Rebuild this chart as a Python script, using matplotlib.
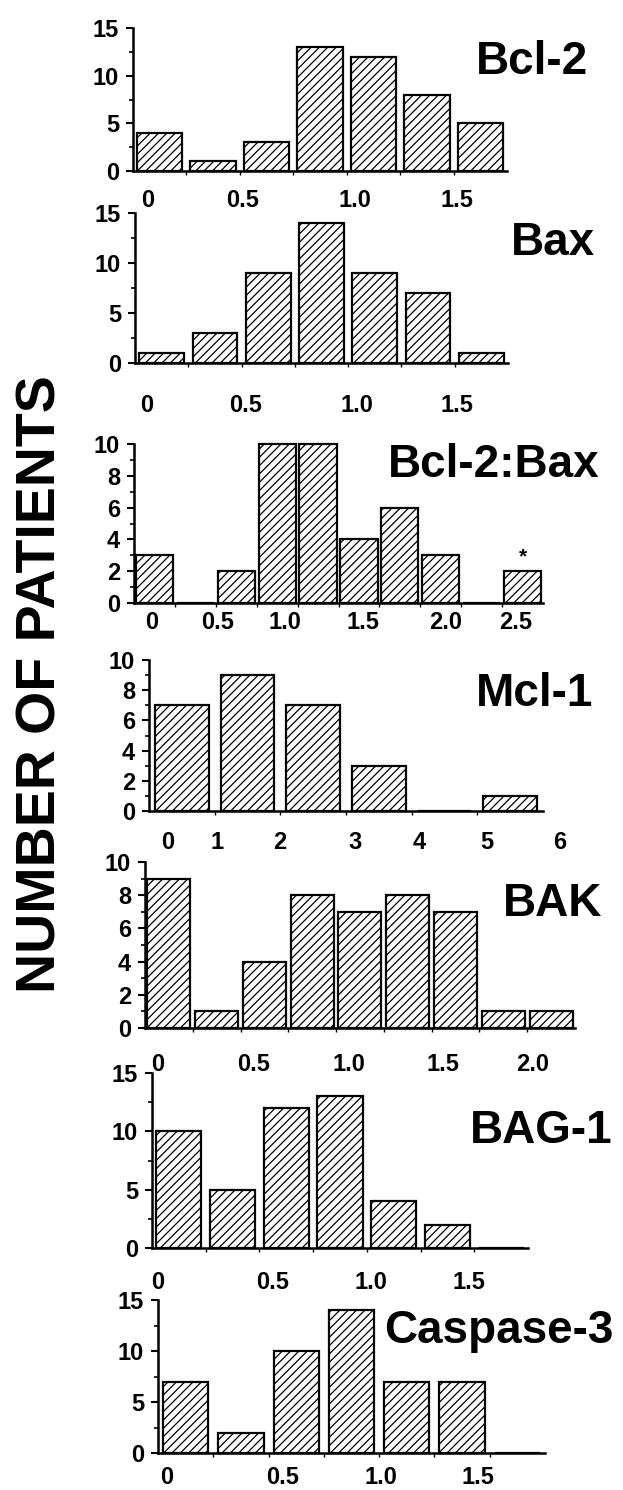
import matplotlib.pyplot as plt
import numpy as np

plt.rcParams['font.family'] = ['Liberation Sans', 'DejaVu Sans']
plt.rcParams['font.weight'] = 'bold'
plt.rcParams['hatch.linewidth'] = 0.9

# number of patients per bin, one list per marker
names = ['Bcl-2', 'Bax', 'Bcl-2:Bax', 'Mcl-1', 'BAK', 'BAG-1', 'Caspase-3']
bcl2 = [4, 1, 3, 13, 12, 8, 5]
bax = [1, 3, 9, 14, 9, 7, 1]
bcl2_bax = [3, 0, 2, 10, 10, 4, 6, 3, 0, 2]
mcl1 = [7, 9, 7, 3, 0, 1]
bak = [9, 1, 4, 8, 7, 8, 7, 1, 1]
bag1 = [10, 5, 12, 13, 4, 2, 0]
casp3 = [7, 2, 10, 14, 7, 7, 0]
counts = [bcl2, bax, bcl2_bax, mcl1, bak, bag1, casp3]

labels_a = ['0', '0.5', '1.0', '1.5']
labels_b = ['0', '0.5', '1.0', '1.5', '2.0', '2.5']
labels_c = ['0', '1', '2', '3', '4', '5', '6']
labels_d = ['0', '0.5', '1.0', '1.5', '2.0']
xlabels = [labels_a, labels_a, labels_b, labels_c, labels_d, labels_a, labels_a]
ymax = [15, 15, 10, 10, 10, 15, 15]

# layout (pixels of a 623x1490 page)
W, H = 623, 1490
axis_px = [(133, 507, 28, 171), (135, 508, 213, 363), (134, 543, 444, 603),
           (149, 543, 660, 811), (145, 575, 862, 1028), (152, 528, 1073, 1248),
           (158, 545, 1300, 1453)]
tick_pos = [[0.28, 2.05, 4.15, 6.07], [0.22, 2.08, 4.16, 6.05],
            [0.44, 2.04, 3.68, 5.6, 7.61, 9.33],
            [0.28, 1.04, 1.99, 3.14, 4.12, 5.14, 6.25],
            [0.27, 2.27, 4.27, 6.23, 8.12], [0.1, 2.24, 4.08, 5.9],
            [0.16, 2.25, 4.04, 5.78]]
label_pad = [13, 22, 6, 14.5, 18, 16.5, 9]
bar_w = [0.85, 0.84, 0.91, 0.82, 0.9, 0.84, 0.82]
title_px = [(532, 74), (553, 255), (494, 477), (535, 706), (553, 916),
            (541, 1143), (499, 1343)]

fig = plt.figure(figsize=(W / 100, H / 100), dpi=100)

for k in range(7):
    x0, x1, yt, y0 = axis_px[k]
    n = len(counts[k])
    hi = max(n, tick_pos[k][-1] + 0.3)
    right = x0 + (x1 - x0) * hi / n
    ax = fig.add_axes([x0 / W, 1 - y0 / H, (right - x0) / W, (y0 - yt) / H])
    ax.bar(np.arange(n) + 0.5, counts[k], width=bar_w[k], color='white',
           edgecolor='black', linewidth=1.6, hatch='////', clip_on=False)
    ax.set_xlim(0, hi)
    ax.set_ylim(0, ymax[k])
    for s in ['top', 'right']:
        ax.spines[s].set_visible(False)
    ax.spines['left'].set_linewidth(1.8)
    ax.spines['bottom'].set_linewidth(1.8)
    ax.spines['bottom'].set_bounds(0, n)
    step = 5 if ymax[k] == 15 else 2
    ax.set_yticks(np.arange(0, ymax[k] + 1, step))
    ax.set_yticks(np.arange(step / 2, ymax[k], step), minor=True)
    ax.set_xticks(tick_pos[k])
    ax.set_xticklabels(xlabels[k])
    ax.set_xticks(np.arange(1, n), minor=True)
    ax.tick_params(axis='y', which='major', length=5, width=1.5, pad=5,
                   labelsize=17)
    ax.tick_params(axis='y', which='minor', length=3, width=1.2)
    ax.tick_params(axis='x', which='major', length=0, pad=label_pad[k],
                   labelsize=17)
    ax.tick_params(axis='x', which='minor', length=3, width=1.0)
    if names[k] == 'Bcl-2:Bax':
        ax.text(n - 0.5, counts[k][-1] + 0.3, '*', ha='center', va='bottom',
                fontsize=15)
    tx, ty = title_px[k]
    fig.text(tx / W, 1 - ty / H, names[k], fontsize=33, ha='center',
             va='baseline')

fig.text(42 / W, 1 - 684 / H, 'NUMBER OF PATIENTS', rotation=90, fontsize=40,
         ha='center', va='center')

plt.savefig('out.png', dpi=100)
